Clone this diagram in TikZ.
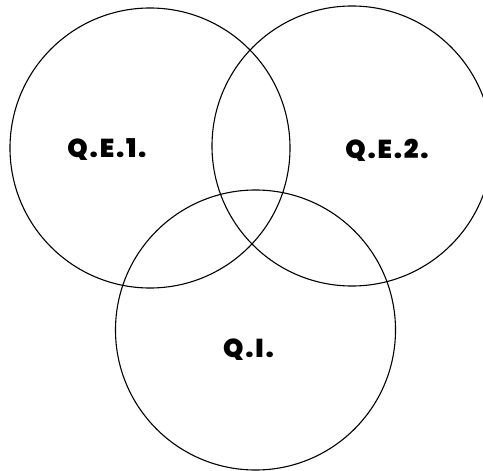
\documentclass[tikz,border=0pt]{standalone}
\usepackage{fontspec}
\setmainfont{Poppins}[BoldFont={Poppins Black}, BoldFeatures={LetterSpace=7}]
\usepackage{tikz}

\begin{document}
\begin{tikzpicture}[x=1bp, y=-1bp, every node/.style={font=\fontsize{26}{30}\selectfont\bfseries},
        ring/.style={draw, circle, line width=1.1bp, minimum size=280bp, inner sep=0pt}]
        \useasboundingbox (0,0) rectangle (483,471);
        \node[ring] (c1) at (150,148) {};
        \node[ring] (c2) at (352,146) {};
        \node[ring] (c3) at (255.5,330) {};
        \node (qe1) at (107,150) {Q.E.1.};
        \node (qe2) at (387,150) {Q.E.2.};
        \node (qi) at (248.5,350) {Q.I.};
    \end{tikzpicture}
\end{document}
